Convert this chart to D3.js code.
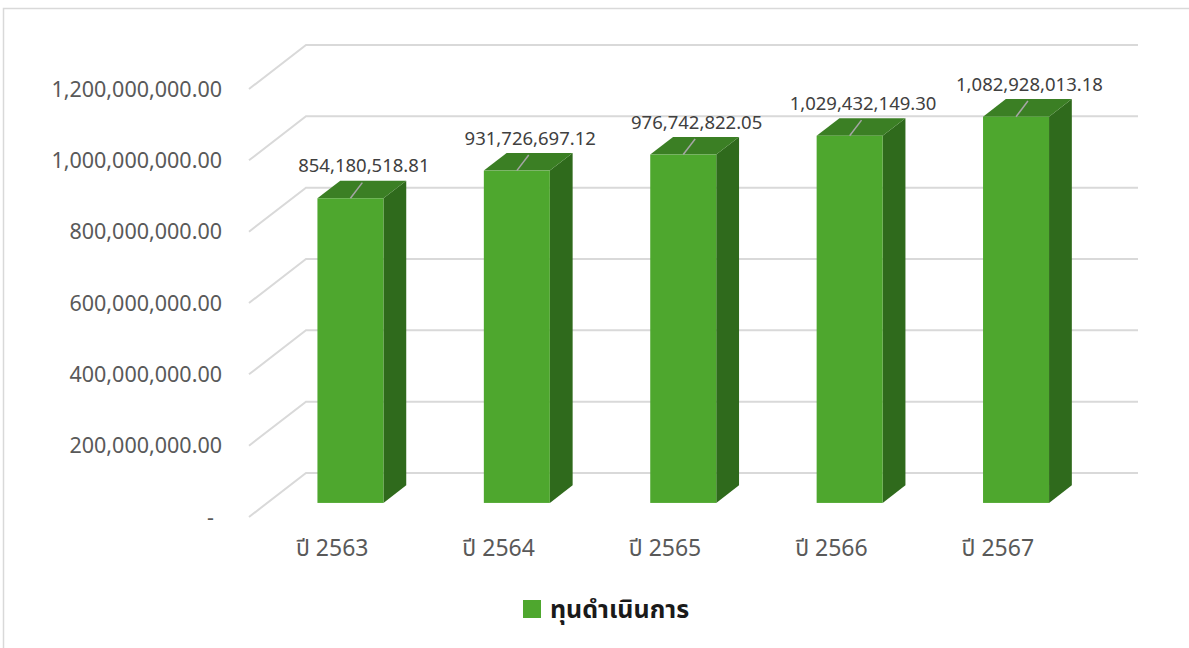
<!DOCTYPE html>
<html><head><meta charset="utf-8">
<script src="https://cdn.jsdelivr.net/npm/d3@7"></script>
<style>body{margin:0;background:#fff}svg{display:block}text{font-family:Tahoma,"Noto Sans","Noto Sans Thai",sans-serif}</style>
</head><body><svg id="c" width="1189" height="648"></svg>
<script>
const categories = ["ปี 2563","ปี 2564","ปี 2565","ปี 2566","ปี 2567"];
const values = [854180518.81, 931726697.12, 976742822.05, 1029432149.30, 1082928013.18];
const yTicks = [0, 200000000, 400000000, 600000000, 800000000, 1000000000, 1200000000];
const seriesName = "ทุนดำเนินการ";

const svg = d3.select("#c");
const colors = {front:"#4ea72e", top:"#3b7f24", side:"#2f6a1c", grid:"#d9d9d9", text:"#595959"};

// oblique 3D geometry
const x0 = 249, x1 = 1081, yFront0 = 517;
const D = [57, -44];           // full depth vector
const fStart = 0.32, fDepth = 0.40;

const y = d3.scaleLinear().domain([0, 1200000000]).range([yFront0, 89]);
const xc = d3.scaleBand().domain(categories).range([x0, x1]);

// border
svg.append("rect").attr("x",3.5).attr("y",8.5).attr("width",1200).attr("height",700)
  .attr("fill","none").attr("stroke","#d9d9d9").attr("stroke-width",1.5);

// gridlines
const g = svg.append("g");
yTicks.forEach(t => {
  const yf = y(t);
  g.append("path")
    .attr("d", `M${x0},${yf}L${x0+D[0]},${yf+D[1]}L${x1+D[0]},${yf+D[1]}`)
    .attr("fill","none").attr("stroke",colors.grid).attr("stroke-width",2);
});

// y labels
const fmt = d3.format(",.2f");
svg.append("g").selectAll("text").data(yTicks).join("text")
  .attr("x", d => d === 0 ? 214 : 222)
  .attr("y", d => y(d))
  .attr("dy","0.36em")
  .attr("text-anchor","end")
  .attr("font-size",21.5)
  .attr("fill",colors.text)
  .text(d => d === 0 ? "-" : fmt(d));

// bars
const bw = 66;
const bars = svg.append("g");
categories.forEach((c, i) => {
  const v = values[i];
  const cx = xc(c) + xc.bandwidth()/2 + fStart*D[0];
  const bx = cx - bw/2;
  const by0 = yFront0 + fStart*D[1];
  const h = yFront0 - y(v);
  const by1 = by0 - h;
  const dx = fDepth*D[0], dy = fDepth*D[1];
  bars.append("path").attr("d",
    `M${bx+bw},${by0}L${bx+bw+dx},${by0+dy}L${bx+bw+dx},${by1+dy}L${bx+bw},${by1}Z`)
    .attr("fill",colors.side);
  bars.append("path").attr("d",
    `M${bx},${by1}L${bx+dx},${by1+dy}L${bx+bw+dx},${by1+dy}L${bx+bw},${by1}Z`)
    .attr("fill",colors.top);
  bars.append("rect").attr("x",bx).attr("y",by1).attr("width",bw).attr("height",h)
    .attr("fill",colors.front);
  bars.append("line").attr("x1",cx).attr("y1",by1).attr("x2",cx+dx/2+0.5).attr("y2",by1+dy+2)
    .attr("stroke","#a6a6a6").attr("stroke-width",1.5);
  bars.append("text").attr("x",cx+dx/2+2).attr("y",by1-26)
    .attr("text-anchor","middle").attr("font-size",18.5).attr("fill","#404040")
    .text(fmt(v));
});

// x labels
svg.append("g").selectAll("text").data(categories).join("text")
  .attr("x", d => xc(d) + xc.bandwidth()/2)
  .attr("y", 548).attr("dy","0.36em")
  .attr("text-anchor","middle").attr("font-size",23).attr("fill",colors.text)
  .text(d => d);

// legend
svg.append("rect").attr("x",523).attr("y",600).attr("width",18).attr("height",18).attr("fill",colors.front);
svg.append("text").attr("x",550).attr("y",609).attr("dy","0.36em")
  .attr("font-size",25).attr("font-weight","bold").attr("fill","#1a1a1a").text(seriesName);
</script></body></html>
